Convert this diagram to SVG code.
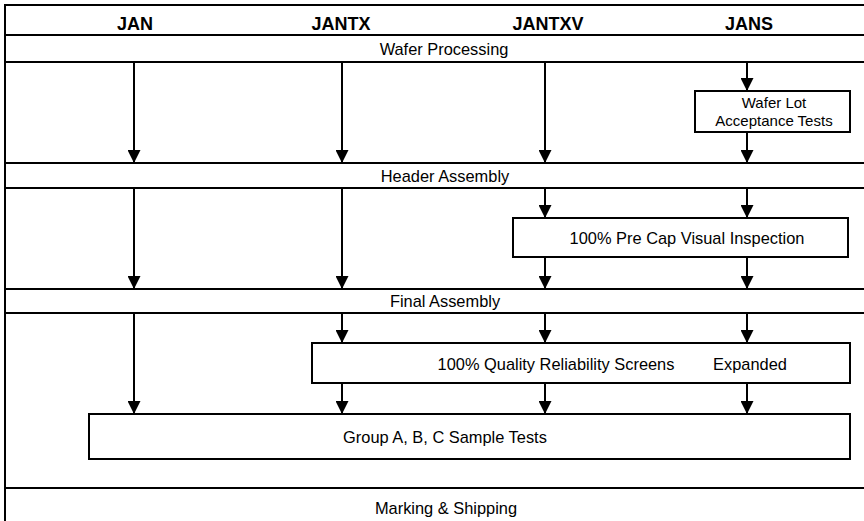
<svg xmlns="http://www.w3.org/2000/svg" width="864" height="521" viewBox="0 0 864 521">
<style>
.frame{stroke:#000;stroke-width:2;fill:none}
.box{stroke:#000;stroke-width:2;fill:#fff}
.t{font-family:"Liberation Sans",Arial,sans-serif;font-size:16.4px;fill:#000;text-anchor:middle}
.s{font-size:15px}
.h{font-family:"Liberation Sans",Arial,sans-serif;font-size:18px;font-weight:bold;fill:#000;text-anchor:middle}
.c{stroke:#000;stroke-width:2;fill:none}
</style>
<defs>
<marker id="ah" viewBox="0 0 13 13" refX="13" refY="6.5" markerWidth="13" markerHeight="13" markerUnits="userSpaceOnUse" orient="auto">
<path d="M0,0 L13,6.5 L0,13 z" fill="#000"/>
</marker>
</defs>
<rect width="864" height="521" fill="#fff"/>
<g id="frame">
<path class="frame" d="M5,521 V5 H864 M5,35 H864 M5,62 H864 M5,163 H864 M5,188 H864 M5,289 H864 M5,313 H864 M5,488 H864"/>
</g>
<g id="headers">
<text class="h" x="135" y="30">JAN</text>
<text class="h" x="341" y="30">JANTX</text>
<text class="h" x="548" y="30">JANTXV</text>
<text class="h" x="749" y="30">JANS</text>
</g>
<g id="wafer-processing"><text class="t" x="444" y="55">Wafer Processing</text></g>
<g id="wafer-lot">
<rect class="box" x="695" y="91" width="155" height="41"/>
<text class="t s" x="774" y="108">Wafer Lot</text>
<text class="t s" x="774" y="126">Acceptance Tests</text>
</g>
<g id="header-assembly"><text class="t" x="445" y="182">Header Assembly</text></g>
<g id="precap">
<rect class="box" x="513" y="218" width="335" height="39"/>
<text class="t" x="687" y="244">100% Pre Cap Visual Inspection</text>
</g>
<g id="final-assembly"><text class="t" x="445" y="307">Final Assembly</text></g>
<g id="quality">
<rect class="box" x="312" y="343" width="538" height="40"/>
<text class="t" x="556" y="370">100% Quality Reliability Screens</text>
<text class="t" x="750" y="370">Expanded</text>
</g>
<g id="sample-tests">
<rect class="box" x="89" y="414" width="761" height="45"/>
<text class="t" x="445" y="443">Group A, B, C Sample Tests</text>
</g>
<g id="marking"><text class="t" x="446" y="514">Marking &amp; Shipping</text></g>
<g id="connectors">
<path class="c" marker-end="url(#ah)" d="M134,62 V163"/>
<path class="c" marker-end="url(#ah)" d="M342,62 V163"/>
<path class="c" marker-end="url(#ah)" d="M545,62 V163"/>
<path class="c" marker-end="url(#ah)" d="M747,62 V91"/>
<path class="c" marker-end="url(#ah)" d="M747,132 V163"/>
<path class="c" marker-end="url(#ah)" d="M134,188 V289"/>
<path class="c" marker-end="url(#ah)" d="M342,188 V289"/>
<path class="c" marker-end="url(#ah)" d="M545,188 V218"/>
<path class="c" marker-end="url(#ah)" d="M747,188 V218"/>
<path class="c" marker-end="url(#ah)" d="M545,257 V289"/>
<path class="c" marker-end="url(#ah)" d="M747,257 V289"/>
<path class="c" marker-end="url(#ah)" d="M134,313 V414"/>
<path class="c" marker-end="url(#ah)" d="M342,313 V343"/>
<path class="c" marker-end="url(#ah)" d="M545,313 V343"/>
<path class="c" marker-end="url(#ah)" d="M747,313 V343"/>
<path class="c" marker-end="url(#ah)" d="M342,383 V414"/>
<path class="c" marker-end="url(#ah)" d="M545,383 V414"/>
<path class="c" marker-end="url(#ah)" d="M747,383 V414"/>
</g>
</svg>
